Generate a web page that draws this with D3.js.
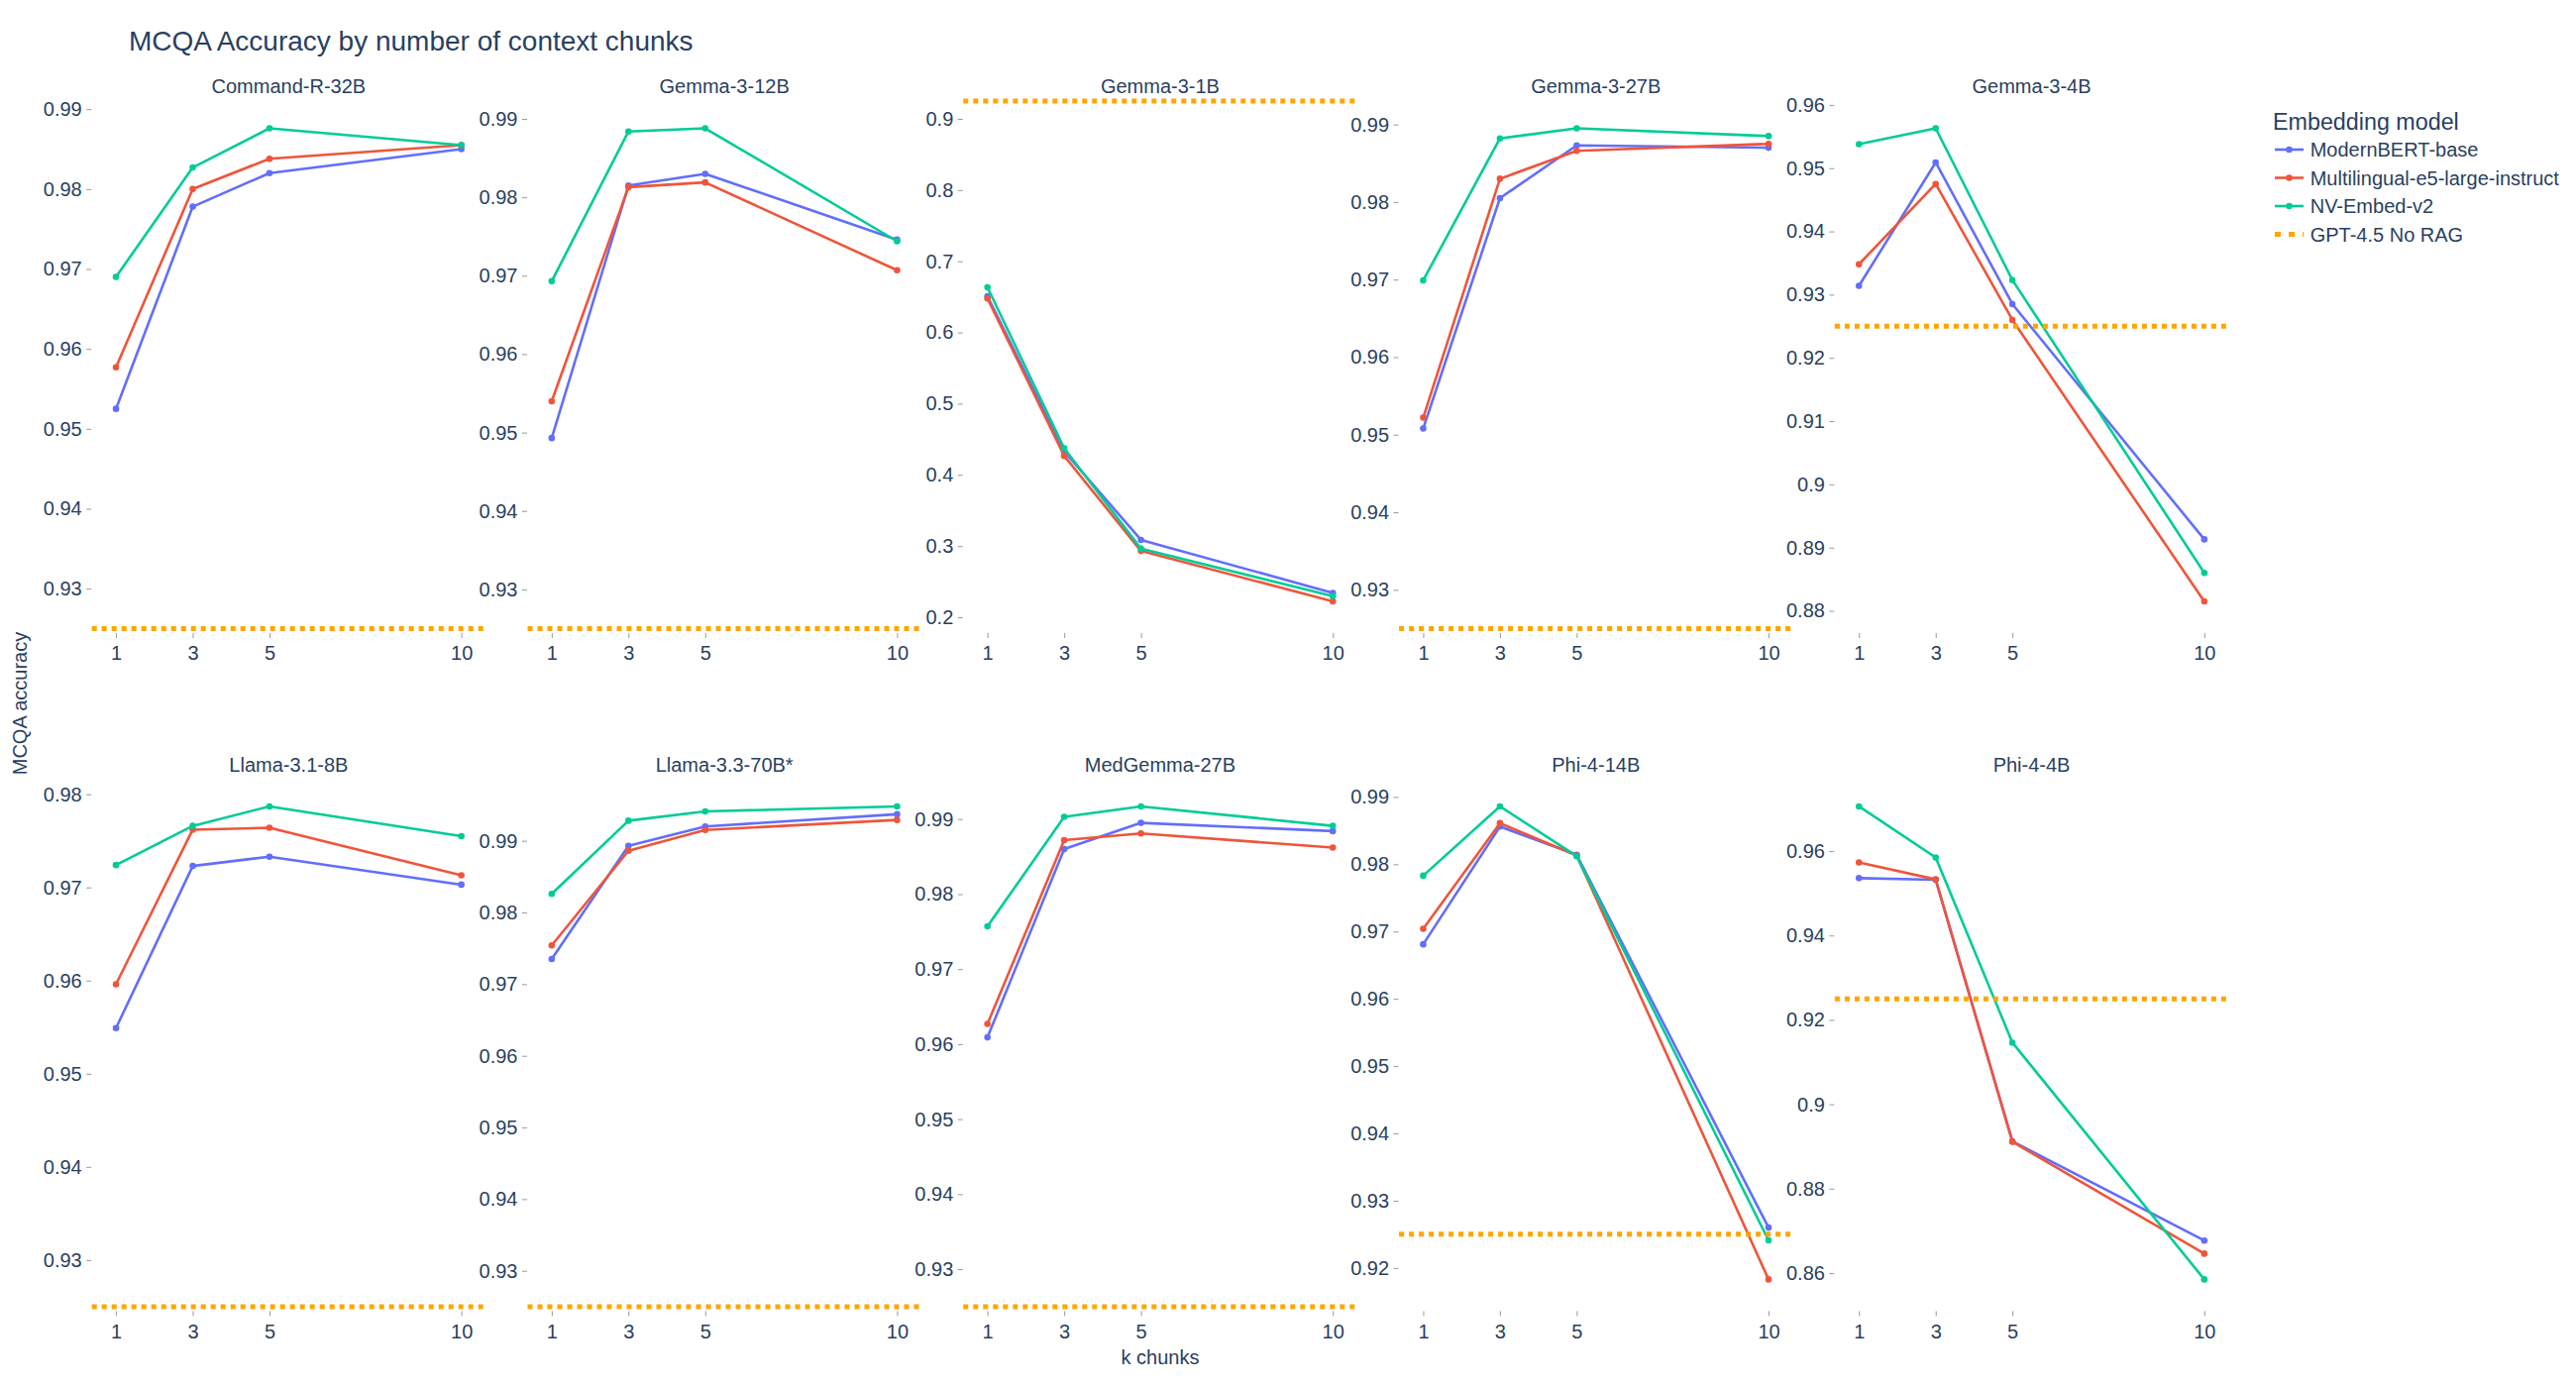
<!DOCTYPE html>
<html>
<head>
<meta charset="utf-8">
<script src="https://cdn.jsdelivr.net/npm/d3@7"></script>
<style>
  body { margin: 0; background: #fff; }
  svg { font-family: "Liberation Sans", Arial, sans-serif; }
</style>
</head>
<body>
<svg id="chart" width="2600" height="1400"></svg>
<script>
const kChunks = [1, 3, 5, 10];
const models = ["Command-R-32B", "Gemma-3-12B", "Gemma-3-1B", "Gemma-3-27B", "Gemma-3-4B",
	"Llama-3.1-8B", "Llama-3.3-70B*", "MedGemma-27B", "Phi-4-14B", "Phi-4-4B"];
const embedders = ["ModernBERT-base", "Multilingual-e5-large-instruct", "NV-Embed-v2"];
const baselineName = "GPT-4.5 No RAG";
const baselineValue = 0.925;

// accuracy per model, at k = 1, 3, 5, 10
const modernBert = [
	[0.9525, 0.9778, 0.9820, 0.9850],
	[0.9493, 0.9815, 0.9830, 0.9746],
	[0.6509, 0.4330, 0.3087, 0.2342],
	[0.9508, 0.9805, 0.9873, 0.9870],
	[0.9314, 0.9509, 0.9285, 0.8913],
	[0.9549, 0.9723, 0.9733, 0.9703],
	[0.9735, 0.9893, 0.9920, 0.9937],
	[0.9609, 0.9860, 0.9895, 0.9884],
	[0.9681, 0.9856, 0.9814, 0.9260],
	[0.9536, 0.9532, 0.8912, 0.8677],
];
const multilingualE5 = [
	[0.9577, 0.9800, 0.9838, 0.9855],
	[0.9540, 0.9813, 0.9819, 0.9707],
	[0.6478, 0.4267, 0.2932, 0.2224],
	[0.9522, 0.9830, 0.9866, 0.9875],
	[0.9348, 0.9475, 0.9260, 0.8815],
	[0.9596, 0.9762, 0.9764, 0.9713],
	[0.9754, 0.9886, 0.9915, 0.9929],
	[0.9627, 0.9872, 0.9881, 0.9862],
	[0.9704, 0.9861, 0.9813, 0.9183],
	[0.9573, 0.9533, 0.8911, 0.8646],
];
const nvEmbed = [
	[0.9690, 0.9827, 0.9876, 0.9855],
	[0.9693, 0.9884, 0.9888, 0.9744],
	[0.6634, 0.4373, 0.2963, 0.2298],
	[0.9699, 0.9882, 0.9895, 0.9885],
	[0.9538, 0.9563, 0.9323, 0.8860],
	[0.9724, 0.9766, 0.9787, 0.9755],
	[0.9826, 0.9928, 0.9941, 0.9948],
	[0.9757, 0.9903, 0.9917, 0.9891],
	[0.9783, 0.9886, 0.9812, 0.9241],
	[0.9706, 0.9585, 0.9146, 0.8585],
];

const seriesValues = [modernBert, multilingualE5, nvEmbed];
const colors = ["#636efa", "#EF553B", "#00cc96"];
const baselineColor = "#FFA500";
const textColor = "#2a3f5f";

const svg = d3.select("#chart");

const panelLeft = 92.7, panelStep = 439.8, panelW = 397.3;
const rowTops = [98, 782.4], panelH = 540.5;

// plotly-like autorange: every value keeps its pixel padding inside the axis
function autoRange(items, len) {
	let lo = d3.min(items, (d) => d.v);
	let hi = d3.max(items, (d) => d.v);
	for (let i = 0; i < 60; i++) {
		const k = len / (hi - lo);
		lo = d3.min(items, (d) => d.v - d.pad / k);
		hi = d3.max(items, (d) => d.v + d.pad / k);
	}
	return [lo, hi];
}

const fmt = d3.format("~g");

svg
	.append("text")
	.attr("x", 130)
	.attr("y", 41)
	.attr("dy", "0.35em")
	.attr("fill", textColor)
	.style("font-size", "28px")
	.text("MCQA Accuracy by number of context chunks");

models.forEach((model, m) => {
	const col = m % 5;
	const row = Math.floor(m / 5);
	const x0 = panelLeft + col * panelStep;
	const y0 = rowTops[row];

	const xPad = 0.05 * panelW + 4.5;
	const xDom = autoRange(kChunks.map((k) => ({ v: k, pad: xPad })), panelW);
	const x = d3.scaleLinear().domain(xDom).range([x0, x0 + panelW]);

	const yPad = 0.05 * panelH + 4.5;
	let items = [];
	seriesValues.forEach((s) => s[m].forEach((v) => items.push({ v: v, pad: yPad })));
	items.push({ v: baselineValue, pad: 4 });
	const yDom = autoRange(items, panelH);
	const y = d3.scaleLinear().domain(yDom).range([y0 + panelH, y0]);

	const g = svg.append("g");

	// y axis
	const yAxis = g
		.append("g")
		.attr("transform", "translate(" + x0 + ",0)")
		.call(d3.axisLeft(y).ticks(7).tickFormat(fmt).tickSize(5).tickPadding(5));
	yAxis.select(".domain").remove();
	yAxis.selectAll(".tick line").attr("stroke", "#9a9a9a").attr("transform", "translate(-0.5,0)");
	yAxis
		.selectAll(".tick text")
		.attr("fill", textColor)
		.style("font-size", "20px")
		.style("font-family", "Liberation Sans, Arial, sans-serif");

	// x axis
	const xAxis = g
		.append("g")
		.attr("transform", "translate(0," + (y0 + panelH + 0.5) + ")")
		.call(d3.axisBottom(x).tickValues(kChunks).tickFormat(d3.format("d")).tickSize(5).tickPadding(8));
	xAxis.select(".domain").remove();
	xAxis.selectAll(".tick line").attr("stroke", "#9a9a9a");
	xAxis
		.selectAll(".tick text")
		.attr("fill", textColor)
		.style("font-size", "20px")
		.style("font-family", "Liberation Sans, Arial, sans-serif");

	// subplot title
	g.append("text")
		.attr("x", x0 + panelW / 2)
		.attr("y", y0 - 10.7)
		.attr("dy", "0.35em")
		.attr("text-anchor", "middle")
		.attr("fill", textColor)
		.style("font-size", "20px")
		.text(model);

	const line = d3
		.line()
		.x((d, i) => x(kChunks[i]))
		.y((d) => y(d));

	seriesValues.forEach((s, si) => {
		g.append("path")
			.datum(s[m])
			.attr("fill", "none")
			.attr("stroke", colors[si])
			.attr("stroke-width", 2.6)
			.attr("stroke-linejoin", "round")
			.attr("d", line);
		g.selectAll(".pt" + si)
			.data(s[m])
			.join("circle")
			.attr("class", "pt" + si)
			.attr("cx", (d, i) => x(kChunks[i]))
			.attr("cy", (d) => y(d))
			.attr("r", 3.3)
			.attr("fill", colors[si]);
	});

	// no-RAG baseline
	g.append("line")
		.attr("x1", x0)
		.attr("x2", x0 + panelW)
		.attr("y1", y(baselineValue))
		.attr("y2", y(baselineValue))
		.attr("stroke", baselineColor)
		.attr("stroke-width", 5)
		.attr("stroke-dasharray", "5,5");
});

// axis titles
svg
	.append("text")
	.attr("x", panelLeft + 2 * panelStep + panelW / 2)
	.attr("y", 1370)
	.attr("dy", "0.35em")
	.attr("text-anchor", "middle")
	.attr("fill", textColor)
	.style("font-size", "20px")
	.text("k chunks");

svg
	.append("text")
	.attr("transform", "translate(20,710) rotate(-90)")
	.attr("dy", "0.35em")
	.attr("text-anchor", "middle")
	.attr("fill", textColor)
	.style("font-size", "20px")
	.text("MCQA accuracy");

// legend
const legend = svg.append("g").attr("transform", "translate(2294,0)");
legend
	.append("text")
	.attr("x", 0)
	.attr("y", 123.3)
	.attr("dy", "0.35em")
	.attr("fill", textColor)
	.style("font-size", "23.3px")
	.text("Embedding model");

const legendY = [151, 179.5, 208, 236.5];
embedders.forEach((name, i) => {
	const row = legend.append("g").attr("transform", "translate(0," + legendY[i] + ")");
	row.append("line")
		.attr("x1", 2).attr("x2", 31)
		.attr("stroke", colors[i])
		.attr("stroke-width", 2.6);
	row.append("circle").attr("cx", 16.5).attr("r", 3.3).attr("fill", colors[i]);
	row.append("text")
		.attr("x", 37.7)
		.attr("dy", "0.35em")
		.attr("fill", textColor)
		.style("font-size", "20px")
		.text(name);
});
const baseRow = legend.append("g").attr("transform", "translate(0," + legendY[3] + ")");
baseRow.append("line")
	.attr("x1", 2).attr("x2", 31)
	.attr("stroke", baselineColor)
	.attr("stroke-width", 5)
	.attr("stroke-dasharray", "6,8");
baseRow.append("text")
	.attr("x", 37.7)
	.attr("dy", "0.35em")
	.attr("fill", textColor)
	.style("font-size", "20px")
	.text(baselineName);
</script>
</body>
</html>
